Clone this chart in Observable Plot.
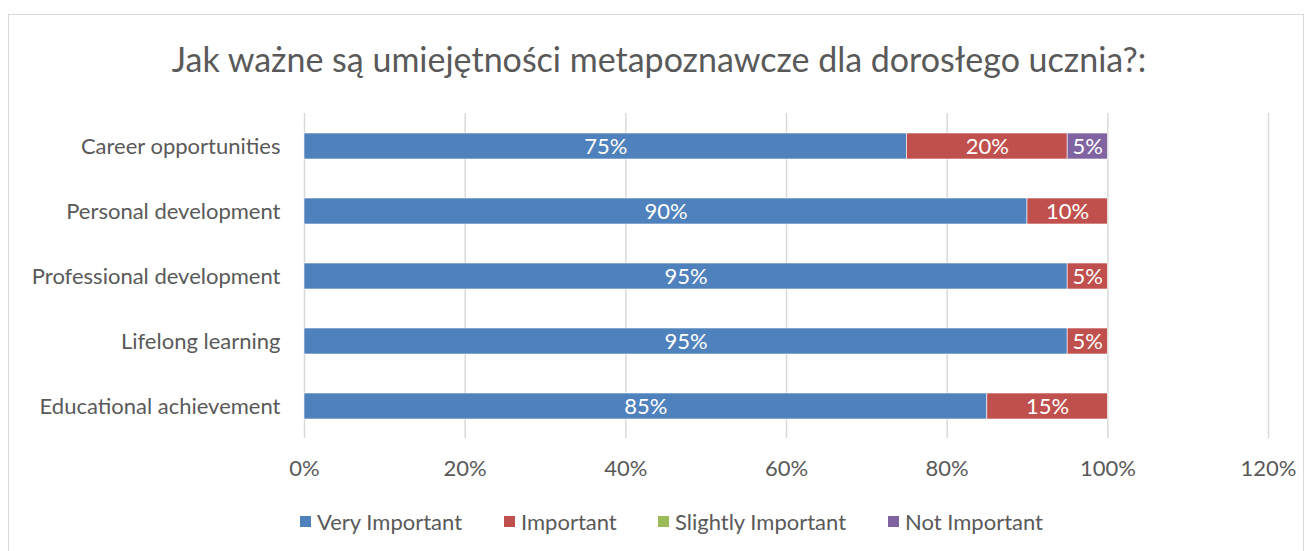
<!DOCTYPE html>
<html>
<head>
<meta charset="utf-8">
<script src="https://cdn.jsdelivr.net/npm/d3@7"></script>
<script src="https://cdn.jsdelivr.net/npm/@observablehq/plot@0.6"></script>
<style>
  html, body { margin: 0; padding: 0; background: #fff; }
  #wrap { position: relative; width: 1312px; height: 551px; overflow: hidden; font-family: Lato, "Open Sans", sans-serif; }
  #frame { position: absolute; left: 8px; top: 14px; width: 1296px; height: 560px; border: 1.5px solid #d9d9d9; box-sizing: border-box; }
  #title { position: absolute; left: 0; width: 1318px; top: 38px; text-align: center; font-size: 34px; color: #595959; }
  #chart { position: absolute; left: 0; top: 100px; }
  #legend { position: absolute; left: 0; top: 506px; width: 1312px; height: 30px; font-size: 22px; color: #595959; }
  .item { position: absolute; top: 0; display: flex; align-items: center; white-space: nowrap; height: 30px; }
  .sw { width: 11px; height: 11px; margin-right: 6px; }
</style>
</head>
<body>
<div id="wrap">
  <div id="frame"></div>
  <div id="title">Jak ważne są umiejętności metapoznawcze dla dorosłego ucznia?:</div>
  <div id="chart"></div>
  <div id="legend"></div>
</div>
<script>
const categories = ["Career opportunities", "Personal development", "Professional development", "Lifelong learning", "Educational achievement"];
const seriesNames = ["Very Important", "Important", "Slightly Important", "Not Important"];
const seriesColors = ["#4F81BD", "#C0504D", "#9BBB59", "#8064A2"];
const veryImportant = [75, 90, 95, 95, 85];
const important = [20, 10, 5, 5, 15];
const slightlyImportant = [0, 0, 0, 0, 0];
const notImportant = [5, 0, 0, 0, 0];
const xTicks = [0, 20, 40, 60, 80, 100, 120];

const seriesValues = [veryImportant, important, slightlyImportant, notImportant];
const data = [];
seriesNames.forEach((s, si) => {
  categories.forEach((c, ci) => {
    data.push({category: c, series: s, value: seriesValues[si][ci]});
  });
});

const plot = Plot.plot({
  width: 1312,
  height: 390,
  marginTop: 13,
  marginBottom: 52,
  marginLeft: 304,
  marginRight: 44,
  style: {fontFamily: "Lato, 'Open Sans', sans-serif", fontSize: "22px", color: "#595959", background: "transparent", overflow: "visible"},
  x: {domain: [0, 120], label: null},
  y: {domain: categories, paddingInner: 0.6, paddingOuter: 0.3, label: null},
  color: {domain: seriesNames, range: seriesColors},
  marks: [
    Plot.gridX(xTicks, {stroke: "#d9d9d9", strokeOpacity: 1, strokeWidth: 1.5}),
    Plot.barX(data, Plot.stackX({x: "value", y: "category", z: "series", fill: "series", order: seriesNames, stroke: "white", strokeWidth: 0.6})),
    Plot.textX(data, Plot.stackX({x: "value", y: "category", z: "series", order: seriesNames, filter: d => d.value > 0, text: d => d.value + "%", fill: "white", fontSize: 22})),
    Plot.axisX(xTicks, {tickSize: 0, tickPadding: 22, tickFormat: d => d + "%", fill: "#595959", fontSize: 22, label: null}),
    Plot.axisY({tickSize: 0, tickPadding: 24, fill: "#595959", fontSize: 22, label: null})
  ]
});
document.getElementById("chart").appendChild(plot);

const legend = document.getElementById("legend");
const legendLeft = [300, 504, 658, 888];
seriesNames.forEach((s, i) => {
  const item = document.createElement("div");
  item.className = "item";
  item.style.left = legendLeft[i] + "px";
  const sw = document.createElement("div");
  sw.className = "sw";
  sw.style.background = seriesColors[i];
  const t = document.createElement("span");
  t.textContent = s;
  item.appendChild(sw);
  item.appendChild(t);
  legend.appendChild(item);
});
</script>
</body>
</html>
